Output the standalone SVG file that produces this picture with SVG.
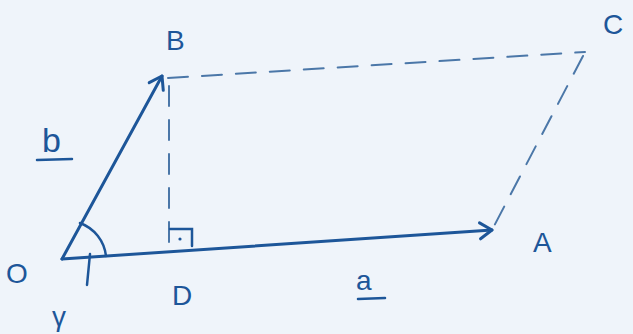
<svg xmlns="http://www.w3.org/2000/svg" width="633" height="334" viewBox="0 0 633 334">
<style>
.lbl{font-family:"Liberation Sans","DejaVu Sans",sans-serif;font-size:28px;fill:#1d5699;}
.vec{stroke:#1d5699;stroke-width:3;fill:none;stroke-linecap:round;stroke-linejoin:round;}
.dash{stroke:#4b77a8;stroke-width:2;fill:none;stroke-dasharray:20 14;stroke-linecap:round;}
.thin{stroke:#1d5699;stroke-width:2.5;fill:none;stroke-linecap:round;}
</style>
<defs>
<marker id="arr" markerWidth="20" markerHeight="20" refX="14" refY="10" orient="auto" markerUnits="userSpaceOnUse">
<path d="M2,2 L14,10 L2,18" fill="none" stroke="#1d5699" stroke-width="3" stroke-linecap="round" stroke-linejoin="round"/>
</marker>
</defs>
<rect width="633" height="334" fill="#eff4fa"/>
<g id="connectors">
<line class="vec" x1="62" y1="259" x2="162" y2="76" marker-end="url(#arr)"/>
<line class="vec" x1="62" y1="259" x2="492" y2="230" marker-end="url(#arr)"/>
<line class="dash" x1="168" y1="78" x2="585" y2="52"/>
<line class="dash" x1="583" y1="56" x2="493" y2="228"/>
<line class="dash" x1="169" y1="86" x2="169" y2="252" stroke-dasharray="14 22"/>
<path class="thin" d="M170,229 L192,229 L192,246"/>
<circle cx="180" cy="239" r="1.6" fill="#1d5699"/>
<path class="thin" d="M80,223 A40,40 0 0 1 106,256"/>
<line class="thin" x1="90" y1="254" x2="87" y2="285"/>
</g>
<g id="O"><text class="lbl" x="6" y="283">O</text></g>
<g id="B"><text class="lbl" x="166" y="50">B</text></g>
<g id="C"><text class="lbl" x="603" y="34">C</text></g>
<g id="A"><text class="lbl" x="533" y="252">A</text></g>
<g id="D"><text class="lbl" x="172" y="305">D</text></g>
<g id="vec-b"><text class="lbl" x="42" y="152" style="font-size:34px">b</text><line class="thin" x1="37" y1="160" x2="72" y2="159"/></g>
<g id="vec-a"><text class="lbl" x="356" y="290">a</text><line class="thin" x1="358" y1="299" x2="385" y2="298"/></g>
<g id="gamma"><text class="lbl" x="52" y="326">γ</text></g>
</svg>
